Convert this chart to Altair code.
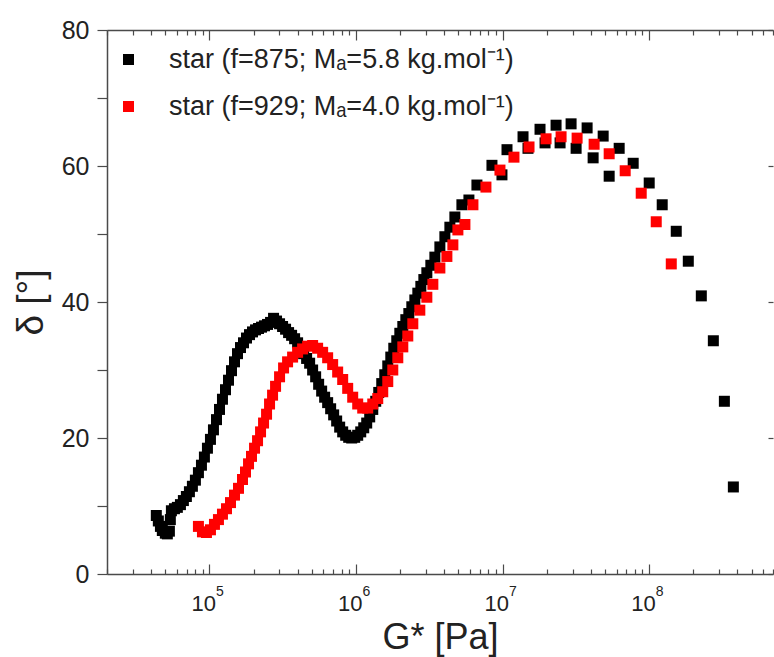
import altair as alt
import pandas as pd

# ---- data: G* [Pa] and delta [deg] ----
black_G = [4.34e4, 4.48e4, 4.63e4, 4.77e4, 5.00e4, 5.16e4, 5.33e4, 5.41e4, 5.50e4, 5.77e4,
           6.04e4, 6.34e4, 6.64e4, 6.96e4, 7.30e4, 7.65e4, 8.02e4, 8.41e4, 8.82e4, 9.24e4,
           9.69e4, 1.016e5, 1.065e5, 1.117e5, 1.171e5, 1.227e5, 1.287e5, 1.349e5, 1.414e5, 1.482e5,
           1.554e5, 1.629e5, 1.708e5, 1.790e5, 1.877e5, 1.967e5, 2.063e5, 2.162e5, 2.267e5, 2.376e5,
           2.491e5, 2.612e5, 2.738e5, 2.870e5, 3.009e5, 3.155e5, 3.307e5, 3.467e5, 3.635e5, 3.811e5,
           3.995e5, 4.188e5, 4.391e5, 4.603e5, 4.826e5, 5.058e5, 5.304e5, 5.560e5, 5.829e5, 6.109e5,
           6.405e5, 6.714e5, 7.039e5, 7.379e5, 7.737e5, 8.111e5, 8.503e5, 8.915e5, 9.346e5, 9.797e5,
           1.027e6, 1.077e6, 1.129e6, 1.183e6, 1.240e6, 1.301e6, 1.363e6, 1.429e6, 1.498e6, 1.571e6,
           1.647e6, 1.727e6, 1.810e6, 1.897e6, 1.990e6, 2.086e6, 2.187e6, 2.293e6, 2.403e6, 2.520e6,
           2.641e6, 2.769e6, 2.903e6, 3.043e6, 3.240e6, 3.452e6, 3.734e6, 4.039e6, 4.369e6, 4.726e6,
           5.278e6, 5.893e6, 6.683e6, 8.463e6, 9.904e6, 1.072e7, 1.379e7, 1.491e7, 1.801e7, 1.949e7,
           2.317e7, 2.468e7, 2.934e7, 3.175e7, 3.774e7, 4.148e7, 4.857e7, 5.337e7, 6.245e7, 7.784e7,
           1.001e8, 1.228e8, 1.531e8, 1.850e8, 2.270e8, 2.742e8, 3.261e8, 3.755e8]
black_delta = [8.6, 7.8, 7.0, 6.4, 6.0, 5.9, 6.3, 8.0, 9.3, 9.6,
               9.8, 10.2, 10.8, 11.4, 12.1, 12.9, 13.8, 14.9, 16.0, 17.2,
               18.5, 19.8, 21.2, 22.7, 24.2, 25.7, 27.1, 28.5, 29.9, 31.2,
               32.4, 33.3, 34.0, 34.7, 35.2, 35.6, 35.9, 36.1, 36.3, 36.5,
               36.7, 37.0, 37.6, 37.2, 36.8, 36.4, 36.0, 35.5, 35.1, 34.6,
               34.0, 33.2, 32.4, 31.7, 31.0, 30.0, 29.0, 27.9, 26.9, 26.0,
               25.2, 24.3, 23.4, 22.5, 21.6, 20.9, 20.4, 20.1, 20.0, 20.1,
               20.4, 20.9, 21.5, 22.2, 23.1, 24.2, 25.4, 26.7, 28.0, 29.3,
               30.6, 31.9, 33.2, 34.3, 35.4, 36.4, 37.4, 38.3, 39.3, 40.3,
               41.3, 42.3, 43.3, 44.3, 45.4, 46.6, 48.1, 49.6, 51.0, 52.5,
               54.3, 55.0, 57.2, 60.1, 58.7, 62.4, 64.3, 62.6, 65.4, 63.4,
               66.0, 63.4, 66.2, 62.6, 65.6, 61.2, 64.4, 58.5, 62.6, 60.4,
               57.5, 54.3, 50.4, 46.0, 40.9, 34.3, 25.4, 12.8]

red_G = [8.41e4, 8.96e4, 9.54e4, 1.016e5, 1.082e5, 1.152e5, 1.227e5, 1.307e5, 1.392e5, 1.482e5,
         1.578e5, 1.681e5, 1.762e5, 1.848e5, 1.937e5, 2.031e5, 2.129e5, 2.232e5, 2.340e5, 2.453e5,
         2.571e5, 2.696e5, 2.826e5, 3.009e5, 3.205e5, 3.413e5, 3.693e5, 3.995e5, 4.322e5, 4.676e5,
         5.058e5, 5.472e5, 5.920e5, 6.405e5, 6.929e5, 7.496e5, 8.111e5, 8.775e5, 9.493e5, 1.027e6,
         1.111e6, 1.202e6, 1.301e6, 1.407e6, 1.522e6, 1.647e6, 1.782e6, 1.928e6, 2.086e6, 2.256e6,
         2.441e6, 2.725e6, 3.043e6, 3.344e6, 3.734e6, 4.169e6, 4.580e6, 4.956e6, 5.534e6, 6.277e6,
         7.700e6, 9.598e6, 1.196e7, 1.515e7, 1.980e7, 2.507e7, 3.225e7, 4.213e7, 5.337e7, 6.864e7,
         8.831e7, 1.118e8, 1.416e8]
red_delta = [7.0, 6.2, 6.1, 6.5, 7.3, 8.0, 8.8, 9.6, 10.5, 11.6,
             12.6, 13.9, 15.0, 16.2, 17.3, 18.5, 19.6, 20.9, 22.2, 23.5,
             25.0, 26.3, 27.6, 29.0, 30.3, 31.2, 31.9, 32.6, 33.1, 33.5,
             33.6, 33.2, 32.6, 31.8, 30.8, 29.7, 28.6, 27.3, 26.0, 25.0,
             24.4, 24.4, 25.0, 25.8, 26.8, 28.3, 30.0, 31.8, 33.4, 35.0,
             36.8, 38.8, 40.7, 42.6, 45.0, 46.7, 48.4, 50.6, 51.4, 54.3,
             56.9, 59.4, 61.3, 62.8, 64.0, 64.3, 64.1, 63.2, 61.8, 59.3,
             56.0, 51.8, 45.6]

label_black = "star (f=875; Mₐ=5.8 kg.mol⁻¹)"
label_red = "star (f=929; Mₐ=4.0 kg.mol⁻¹)"

x_domain = [2e4, 7e8]
y_domain = [0, 80]
x_major = [1e5, 1e6, 1e7, 1e8]
x_minor = [2e4, 3e4, 4e4, 5e4, 6e4, 7e4, 8e4, 9e4,
           2e5, 3e5, 4e5, 5e5, 6e5, 7e5, 8e5, 9e5,
           2e6, 3e6, 4e6, 5e6, 6e6, 7e6, 8e6, 9e6,
           2e7, 3e7, 4e7, 5e7, 6e7, 7e7, 8e7, 9e7,
           2e8, 3e8, 4e8, 5e8, 6e8, 7e8]
y_left_ticks = [0, 10, 20, 30, 40, 50, 60, 70, 80]
y_right_ticks = [0, 20, 40, 60, 80]

assert len(black_G) == len(black_delta)
assert len(red_G) == len(red_delta)

df = pd.concat([
    pd.DataFrame({"G": black_G, "delta": black_delta, "series": label_black}),
    pd.DataFrame({"G": red_G, "delta": red_delta, "series": label_red}),
], ignore_index=True)

W, H = 666, 544
FONT = "Liberation Sans"
AX = "#4a4a4a"
TXT = "#222222"

xscale = alt.Scale(type="log", domain=x_domain, nice=False)
yscale = alt.Scale(domain=y_domain, nice=False, zero=False)

major_test = " || ".join(f"datum.value == {int(v)}" for v in x_major)
x_ticks_all = sorted(x_major + x_minor)

common = dict(grid=False, labelFont=FONT, titleFont=FONT, labelColor=TXT, titleColor=TXT,
              domainColor=AX, tickColor=AX, domainWidth=1.5, tickWidth=1.2,
              labelOverlap=False, labelFlush=False, labelBound=False)

base = alt.Chart(df)

# main layer: points, bottom labels "10", title, left y axis
points = base.mark_square(size=121, opacity=1, strokeWidth=0).encode(
    x=alt.X("G:Q", scale=xscale, axis=alt.Axis(
        orient="bottom", values=x_major, ticks=False, tickSize=0, domain=True,
        labelExpr="'10'", labelAlign="right", labelOffset=6, labelPadding=19,
        labelFontSize=22, labelBaseline="top",
        title="G* [Pa]", titleFontSize=36, titleFontWeight="normal",
        titleBaseline="alphabetic", titleY=74, titleX=W / 2, **common)),
    y=alt.Y("delta:Q", scale=yscale, axis=alt.Axis(
        orient="left", values=y_left_ticks, tickSize=10, domain=True,
        labelExpr="datum.value % 20 === 0 ? datum.label : ''",
        labelFontSize=25, labelPadding=8,
        title="δ [°]", titleFontSize=37, titleFontWeight="normal",
        titleAngle=270, titleBaseline="alphabetic", titleX=-65, titleY=H / 2, **common)),
    color=alt.Color("series:N", scale=alt.Scale(domain=[label_black, label_red],
                                                range=["#000000", "#ff0000"]),
                    legend=alt.Legend(orient="none", legendX=8, legendY=16, title=None,
                                      symbolType="square", symbolSize=121, symbolStrokeWidth=0,
                                      symbolOpacity=1, labelFont=FONT, labelFontSize=27,
                                      labelColor=TXT, labelOffset=27, rowPadding=19,
                                      padding=0, labelLimit=0)),
)

# inward ticks along the bottom edge + inward ticks along the right edge
inner_bottom = base.mark_point(opacity=0).encode(
    x=alt.X("G:Q", scale=xscale, axis=alt.Axis(
        orient="top", offset=-H, values=x_ticks_all, labels=False, domain=False, title=None,
        tickSize={"condition": {"test": major_test, "value": 10}, "value": 5}, **common)),
    y=alt.Y("delta:Q", scale=yscale, axis=alt.Axis(
        orient="left", offset=-W, values=y_right_ticks, labels=False, domain=False,
        title=None, tickSize=5, **common)),
)

# top frame line with inward ticks
top_axis = base.mark_point(opacity=0).encode(
    x=alt.X("G:Q", scale=xscale, axis=alt.Axis(
        orient="bottom", offset=-H, values=x_ticks_all, labels=False, domain=True, title=None,
        tickSize={"condition": {"test": major_test, "value": 10}, "value": 5}, **common)),
    y=alt.Y("delta:Q", scale=yscale, axis=None),
)

# exponents of the decade labels
exponents = base.mark_point(opacity=0).encode(
    x=alt.X("G:Q", scale=xscale, axis=alt.Axis(
        orient="bottom", values=x_major, ticks=False, tickSize=0, domain=False, title=None,
        labelExpr="'' + round(log(datum.value) / LN10)", labelAlign="left", labelOffset=6,
        labelPadding=10, labelFontSize=14, labelBaseline="top", **common)),
    y=alt.Y("delta:Q", scale=yscale, axis=None),
)

chart = alt.layer(points, inner_bottom, top_axis, exponents).resolve_axis(
    x="independent", y="independent"
).properties(
    width=W, height=H,
    autosize=alt.AutoSizeParams(type="none"),
    padding={"left": 107, "top": 30, "right": 1, "bottom": 83},
    background="white",
).configure_view(stroke=None)

chart.save("out.html", embed_options={"renderer": "svg", "actions": False})
